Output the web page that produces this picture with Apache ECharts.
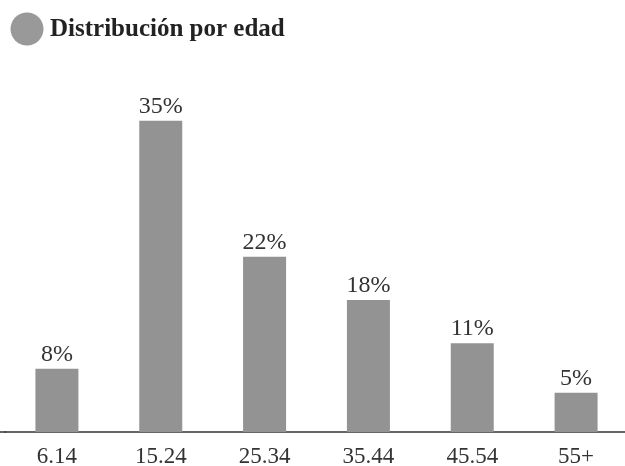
<!DOCTYPE html>
<html>
<head>
<meta charset="utf-8">
<script src="https://cdn.jsdelivr.net/npm/echarts@6/dist/echarts.min.js"></script>
<style>
html,body{margin:0;padding:0;background:#fff;}
#c{width:625px;height:466px;}
</style>
</head>
<body>
<div id="c"></div>
<script>
const title = "Distribución por edad";
const categories = ["6.14", "15.24", "25.34", "35.44", "45.54", "55+"];
// bar heights as drawn in the picture
const values = [7.9, 38.9, 21.9, 16.5, 11.1, 4.9];
// printed labels above the bars
const labels = ["8%", "35%", "22%", "18%", "11%", "5%"];

const serif = "'Liberation Serif', 'DejaVu Serif', serif";
const chart = echarts.init(document.getElementById('c'), null, {renderer: 'canvas'});
chart.setOption({
  animation: false,
  backgroundColor: '#fff',
  graphic: [
    {type: 'circle', shape: {cx: 27, cy: 29, r: 16.5}, style: {fill: '#999999'}},
    {type: 'text', left: 50, top: 17, style: {text: title, font: "bold 25px " + serif, fill: '#222'}},
    {type: 'line', shape: {x1: 0, y1: 432, x2: 6, y2: 432}, style: {stroke: '#333', lineWidth: 1.5}}
  ],
  grid: {left: 5, right: -3, top: 112, bottom: 34, containLabel: false, outerBoundsMode: 'none'},
  xAxis: {
    type: 'category',
    data: categories,
    boundaryGap: true,
    axisLine: {show: true, lineStyle: {color: '#333', width: 1.5}},
    axisTick: {show: false},
    axisLabel: {color: '#333', fontFamily: serif, fontSize: 23, margin: 13}
  },
  yAxis: {
    type: 'value', min: 0, max: 40, show: false,
    splitLine: {show: false}
  },
  series: [{
    type: 'bar',
    data: values,
    barWidth: 43,
    itemStyle: {color: '#939393'},
    label: {
      show: true, position: 'top', distance: 2,
      color: '#333', fontFamily: serif, fontSize: 24,
      formatter: p => labels[p.dataIndex]
    }
  }]
});
</script>
</body>
</html>
